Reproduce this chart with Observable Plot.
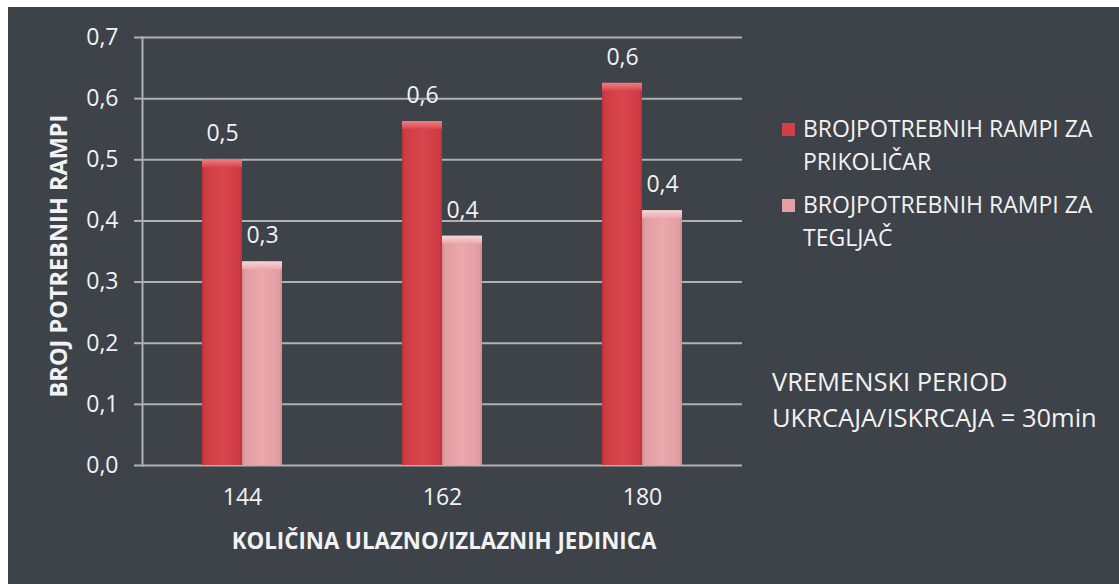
<!DOCTYPE html>
<html>
<head>
<meta charset="utf-8">
<script src="https://cdn.jsdelivr.net/npm/d3@7"></script>
<script src="https://cdn.jsdelivr.net/npm/@observablehq/plot@0.6"></script>
<style>
  html, body { margin: 0; padding: 0; background: #ffffff; width: 1119px; height: 584px; overflow: hidden; }
  #panel { position: absolute; left: 8px; top: 7px; width: 1111px; height: 577px; background: #3e4249;
           font-family: "Open Sans", "DejaVu Sans", sans-serif; color: #f2f2f2; }
  #chart { position: absolute; left: 0; top: 0; }
  .ytitle { position: absolute; left: 50px; top: 249px; transform: translate(-50%, -50%) rotate(-90deg);
            white-space: nowrap; font-weight: 700; font-size: 23.5px; }
  .xtitle { position: absolute; left: 436px; top: 533px; transform: translate(-50%, -50%);
            white-space: nowrap; font-weight: 700; font-size: 22.3px; }
  .legend { position: absolute; left: 774px; top: 105px; font-size: 23px; line-height: 33px; }
  .legend .item { position: relative; padding-left: 21px; margin-bottom: 10px; }
  .legend .sw { position: absolute; left: 0; top: 11px; width: 13px; height: 13px; }
  .note { position: absolute; left: 764px; top: 356px; font-size: 25.5px; line-height: 36px; }
</style>
</head>
<body>
<div id="panel">
  <div id="chart"></div>
  <div class="ytitle">BROJ POTREBNIH RAMPI</div>
  <div class="xtitle">KOLIČINA ULAZNO/IZLAZNIH JEDINICA</div>
  <div class="legend" id="legend"></div>
  <div class="note">VREMENSKI PERIOD<br>UKRCAJA/ISKRCAJA = 30min</div>
</div>
<script>
// ---- data ----
const groups = ["144", "162", "180"];
const seriesNames = ["BROJPOTREBNIH RAMPI ZA PRIKOLIČAR", "BROJPOTREBNIH RAMPI ZA TEGLJAČ"];
const legendLines = [["BROJPOTREBNIH RAMPI ZA", "PRIKOLIČAR"], ["BROJPOTREBNIH RAMPI ZA", "TEGLJAČ"]];
const prikolicar = [0.5, 0.5625, 0.625];
const tegljac = [0.333, 0.375, 0.4167];
const yTicks = [0, 0.1, 0.2, 0.3, 0.4, 0.5, 0.6, 0.7];
const seriesFills = ["url(#gRed)", "url(#gPink)"];
const seriesTops = ["url(#gRedTop)", "url(#gPinkTop)"];
const swatchColors = ["#d23f46", "#e6a0a4"];

const data = [];
groups.forEach((g, i) => {
  data.push({group: g, series: seriesNames[0], value: prikolicar[i]});
  data.push({group: g, series: seriesNames[1], value: tegljac[i]});
});
const fmt = v => v.toFixed(1).replace(".", ",");
const bevel = 0.013;

const svg = Plot.plot({
  width: 1111,
  height: 577,
  marginLeft: 133,
  marginRight: 376,
  marginTop: 30,
  marginBottom: 119,
  style: {background: "transparent", color: "#f2f2f2", fontFamily: "'Open Sans', sans-serif", fontSize: "23px", overflow: "visible"},
  fx: {domain: groups, padding: 0},
  x: {domain: seriesNames, paddingInner: 0, paddingOuter: 1.5, axis: null},
  y: {domain: [0, 0.7]},
  color: {domain: seriesNames, range: seriesFills},
  marks: [
    Plot.gridY(yTicks, {stroke: "#b0b0b2", strokeOpacity: 1, strokeWidth: 2}),
    Plot.frame({anchor: "left", facetAnchor: "left", stroke: "#b0b0b2", strokeWidth: 2}),
    Plot.axisY(yTicks, {tickSize: 8, tickPadding: 16, tickFormat: fmt, fontSize: 23, label: null, stroke: "#b0b0b2", strokeWidth: 2}),
    Plot.axisFx({anchor: "bottom", tickSize: 0, tickPadding: 23, fontSize: 23, label: null}),
    Plot.barY(data, {fx: "group", x: "series", y: "value", fill: "series"}),
    Plot.barY(data, {fx: "group", x: "series", y1: d => d.value - bevel, y2: "value",
      fill: d => seriesTops[seriesNames.indexOf(d.series)]}),
    Plot.text(data, {fx: "group", x: "series", y: "value", text: d => fmt(d.value), dy: -26, fill: "#f2f2f2", fontSize: 23})
  ]
});

// gradients for the bevelled bar look
const defs = d3.select(svg).insert("defs", ":first-child");
function hGrad(id, stops) {
  const g = defs.append("linearGradient").attr("id", id).attr("x1", 0).attr("x2", 1).attr("y1", 0).attr("y2", 0);
  stops.forEach(([o, c]) => g.append("stop").attr("offset", o).attr("stop-color", c));
}
function vGrad(id, stops) {
  const g = defs.append("linearGradient").attr("id", id).attr("x1", 0).attr("x2", 0).attr("y1", 0).attr("y2", 1);
  stops.forEach(([o, c]) => g.append("stop").attr("offset", o).attr("stop-color", c));
}
hGrad("gRed", [[0, "#b8343b"], [0.08, "#cf3c44"], [0.5, "#d9454c"], [0.92, "#cf3c44"], [1, "#b8343b"]]);
hGrad("gPink", [[0, "#cf8a8f"], [0.08, "#e29ea2"], [0.5, "#eaa9ac"], [0.92, "#e29ea2"], [1, "#cf8a8f"]]);
vGrad("gRedTop", [[0, "#ec8085"], [1, "#d9454c"]]);
vGrad("gPinkTop", [[0, "#f8d6d8"], [1, "#eaa9ac"]]);

document.getElementById("chart").appendChild(svg);

// legend
const legend = document.getElementById("legend");
legendLines.forEach((lines, i) => {
  const item = document.createElement("div");
  item.className = "item";
  const sw = document.createElement("span");
  sw.className = "sw";
  sw.style.background = swatchColors[i];
  item.appendChild(sw);
  lines.forEach((t, j) => {
    if (j) item.appendChild(document.createElement("br"));
    item.appendChild(document.createTextNode(t));
  });
  legend.appendChild(item);
});
</script>
</body>
</html>
